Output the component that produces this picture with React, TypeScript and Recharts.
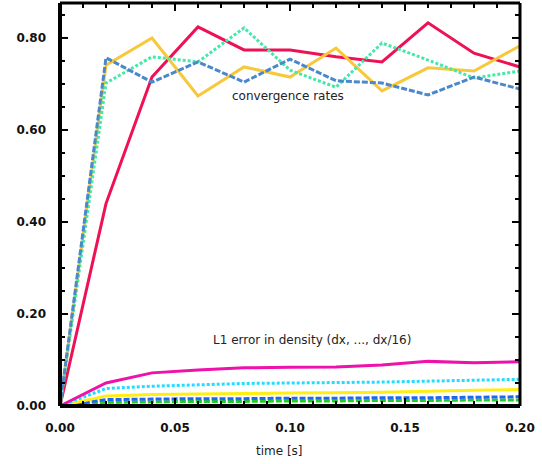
import React from "react"
import { LineChart, Line, XAxis, YAxis } from "recharts"

// time samples [s]
const times = [0, 0.02, 0.04, 0.06, 0.08, 0.1, 0.12, 0.14, 0.16, 0.18, 0.2]

// convergence rates
const rateRed = [0, 0.44, 0.715, 0.824, 0.774, 0.774, 0.759, 0.748, 0.833, 0.767, 0.737]
const rateGold = [0, 0.741, 0.8, 0.674, 0.737, 0.715, 0.778, 0.685, 0.735, 0.728, 0.783]
const rateTeal = [0, 0.702, 0.759, 0.748, 0.822, 0.73, 0.693, 0.789, 0.752, 0.713, 0.728]
const rateBlue = [0, 0.757, 0.704, 0.748, 0.704, 0.754, 0.707, 0.702, 0.676, 0.715, 0.689]

// L1 error in density (dx, ..., dx/16)
const errDx = [0, 0.05, 0.072, 0.078, 0.083, 0.084, 0.085, 0.089, 0.097, 0.094, 0.096]
const errDx2 = [0, 0.038, 0.043, 0.046, 0.049, 0.05, 0.051, 0.052, 0.054, 0.056, 0.058]
const errDx4 = [0, 0.022, 0.025, 0.026, 0.027, 0.028, 0.029, 0.03, 0.032, 0.034, 0.036]
const errDx8 = [0, 0.014, 0.015, 0.016, 0.016, 0.017, 0.017, 0.018, 0.018, 0.019, 0.02]
const errDx16 = [0, 0.008, 0.009, 0.01, 0.01, 0.011, 0.011, 0.012, 0.012, 0.013, 0.013]

const xTicks = [0, 0.01, 0.02, 0.03, 0.04, 0.05, 0.06, 0.07, 0.08, 0.09, 0.1, 0.11, 0.12, 0.13, 0.14, 0.15, 0.16, 0.17, 0.18, 0.19, 0.2]
const yTicks = [0, 0.05, 0.1, 0.15, 0.2, 0.25, 0.3, 0.35, 0.4, 0.45, 0.5, 0.55, 0.6, 0.65, 0.7, 0.75, 0.8, 0.85]

const data = times.map((t, i) => ({
  t,
  rateRed: rateRed[i],
  rateGold: rateGold[i],
  rateTeal: rateTeal[i],
  rateBlue: rateBlue[i],
  errDx: errDx[i],
  errDx2: errDx2[i],
  errDx4: errDx4[i],
  errDx8: errDx8[i],
  errDx16: errDx16[i],
}))

const isMajor = (v: number, step: number) => Math.abs(v / step - Math.round(v / step)) < 1e-6

const tickFont = { fontFamily: "DejaVu Sans", fontWeight: "bold" as const, fontSize: 12, fill: "#111" }

function BottomTick({ x, y, payload }: any) {
  const major = isMajor(payload.value, 0.05)
  return (
    <g>
      <line x1={x} x2={x} y1={y} y2={y - (major ? 8 : 5)} stroke="#000" strokeWidth={2} />
      {major && (
        <text x={x} y={y + 26} textAnchor="middle" {...tickFont}>
          {payload.value.toFixed(2)}
        </text>
      )}
    </g>
  )
}

function TopTick({ x, y, payload }: any) {
  const major = isMajor(payload.value, 0.05)
  return <line x1={x} x2={x} y1={y} y2={y + (major ? 8 : 5)} stroke="#000" strokeWidth={2} />
}

function LeftTick({ x, y, payload }: any) {
  const major = isMajor(payload.value, 0.2)
  return (
    <g>
      <line x1={x} x2={x + (major ? 8 : 5)} y1={y} y2={y} stroke="#000" strokeWidth={2} />
      {major && (
        <text x={x - 14} y={y + 4} textAnchor="end" {...tickFont}>
          {payload.value.toFixed(2)}
        </text>
      )}
    </g>
  )
}

function RightTick({ x, y, payload }: any) {
  const major = isMajor(payload.value, 0.2)
  return <line x1={x} x2={x - (major ? 8 : 5)} y1={y} y2={y} stroke="#000" strokeWidth={2} />
}

export default function App() {
  return (
    <div style={{ position: "absolute", left: 0, top: 0, width: 542, height: 464, background: "#fff" }}>
      <LineChart width={542} height={464} data={data} margin={{ top: 2, right: 21, bottom: 0, left: 0 }}>
        <XAxis
          xAxisId="bottom"
          dataKey="t"
          type="number"
          domain={[0, 0.2]}
          ticks={xTicks}
          interval={0}
          height={58}
          tickSize={0}
          tickMargin={0}
          tick={<BottomTick />}
          axisLine={{ stroke: "#000", strokeWidth: 4 }}
        />
        <XAxis
          xAxisId="top"
          orientation="top"
          dataKey="t"
          type="number"
          domain={[0, 0.2]}
          ticks={xTicks}
          interval={0}
          height={1}
          tickSize={0}
          tickMargin={0}
          tick={<TopTick />}
          axisLine={{ stroke: "#000", strokeWidth: 3 }}
        />
        <YAxis
          yAxisId="left"
          type="number"
          domain={[0, 0.876]}
          ticks={yTicks}
          interval={0}
          width={60}
          tickSize={0}
          tickMargin={0}
          tick={<LeftTick />}
          axisLine={{ stroke: "#000", strokeWidth: 4 }}
        />
        <YAxis
          yAxisId="right"
          orientation="right"
          type="number"
          domain={[0, 0.876]}
          ticks={yTicks}
          interval={0}
          width={1}
          tickSize={0}
          tickMargin={0}
          tick={<RightTick />}
          axisLine={{ stroke: "#000", strokeWidth: 3 }}
        />
        {/* invisible series so the mirrored top/right axes get drawn */}
        <Line xAxisId="top" yAxisId="right" dataKey="rateRed" stroke="none" dot={false} activeDot={false} isAnimationActive={false} />
        <Line xAxisId="bottom" yAxisId="left" dataKey="errDx16" stroke="#22cc22" strokeWidth={3} strokeDasharray="6 2" dot={false} isAnimationActive={false} />
        <Line xAxisId="bottom" yAxisId="left" dataKey="errDx8" stroke="#2266ee" strokeWidth={3} strokeDasharray="6 2" dot={false} isAnimationActive={false} />
        <Line xAxisId="bottom" yAxisId="left" dataKey="errDx4" stroke="#ffee11" strokeWidth={3} dot={false} isAnimationActive={false} />
        <Line xAxisId="bottom" yAxisId="left" dataKey="errDx2" stroke="#22ddff" strokeWidth={3} strokeDasharray="3 2" dot={false} isAnimationActive={false} />
        <Line xAxisId="bottom" yAxisId="left" dataKey="errDx" stroke="#ee11aa" strokeWidth={3} dot={false} isAnimationActive={false} />
        <Line xAxisId="bottom" yAxisId="left" dataKey="rateRed" stroke="#ee1155" strokeWidth={3} dot={false} isAnimationActive={false} />
        <Line xAxisId="bottom" yAxisId="left" dataKey="rateGold" stroke="#f8c83c" strokeWidth={3} dot={false} isAnimationActive={false} />
        <Line xAxisId="bottom" yAxisId="left" dataKey="rateTeal" stroke="#44e8a8" strokeWidth={3} strokeDasharray="3 2" dot={false} isAnimationActive={false} />
        <Line xAxisId="bottom" yAxisId="left" dataKey="rateBlue" stroke="#4a88cc" strokeWidth={3} strokeDasharray="6 2" dot={false} isAnimationActive={false} />
      </LineChart>
      <div style={{ position: "absolute", left: 232, top: 89, fontFamily: "DejaVu Sans", fontSize: 12, color: "#222", whiteSpace: "nowrap" }}>
        convergence rates
      </div>
      <div style={{ position: "absolute", left: 213, top: 333, fontFamily: "DejaVu Sans", fontSize: 12, color: "#222", whiteSpace: "nowrap" }}>
        L1 error in density (dx, ..., dx/16)
      </div>
      <div style={{ position: "absolute", left: 256, top: 444, fontFamily: "DejaVu Sans", fontSize: 12, color: "#222", whiteSpace: "nowrap" }}>
        time [s]
      </div>
    </div>
  )
}
